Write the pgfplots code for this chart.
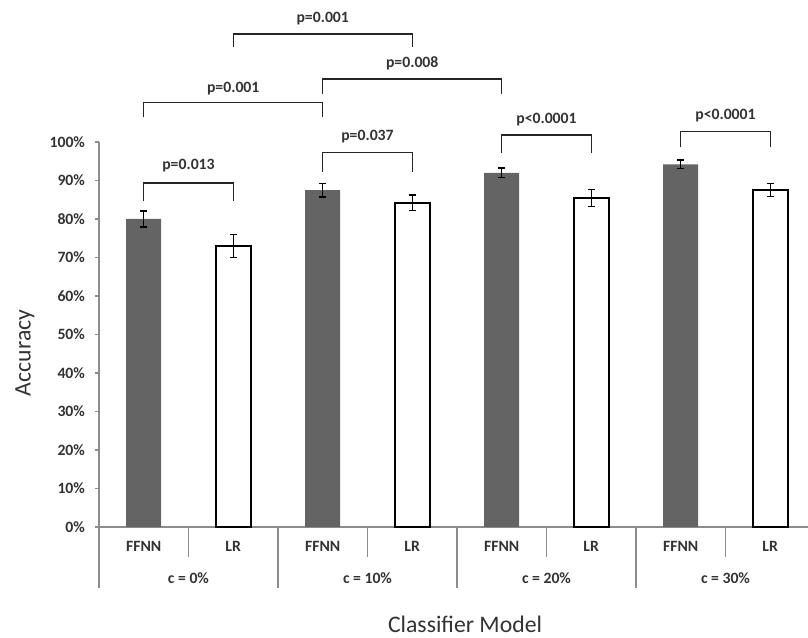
\documentclass[border=0pt]{standalone}
\usepackage{pgfplots}
\pgfplotsset{compat=1.18}
\usepackage{fontspec}
\setmainfont{Carlito}
\definecolor{axgray}{HTML}{8C8C8C}
\definecolor{barfill}{HTML}{646464}
\definecolor{txt}{HTML}{333333}
\tikzset{
  sep/.style={axgray, line width=1pt},
  lab/.style={text=txt, font=\fontsize{11.8}{14}\selectfont\bfseries},
  big/.style={text=txt, font=\fontsize{17.8}{20}\selectfont},
  brk/.style={black!85, line width=1.1pt},
}
\begin{document}
\begin{tikzpicture}
\begin{axis}[
  x=67.125pt, y=2.8875pt,
  xmin=-0.5, xmax=7.422, ymin=0, ymax=100,
  axis x line*=bottom, axis y line*=left,
  axis line style={axgray, line width=1pt},
  xtick=\empty,
  ytick={0,10,...,100},
  yticklabel={\pgfmathprintnumber{\tick}\%},
  /pgf/number format/assume math mode=true,
  tick style={axgray, line width=0.8pt},
  tick align=outside, major tick length=3pt,
  ticklabel style={font=\fontsize{11.8}{14}\selectfont\bfseries, text=txt},
  yticklabel style={xshift=-4pt},
  clip=false,
  ybar, bar width=26.25pt, bar shift=0pt,
]
\addplot[fill=barfill, draw=none,
  error bars/.cd, y dir=both, y explicit,
  error bar style={black, line width=1pt},
  error mark options={rotate=90, mark size=2.6pt, line width=1pt, black}]
  coordinates {(0,80.0) +- (0,2.1) (2,87.5) +- (0,1.8) (4,92.0) +- (0,1.2) (6,94.2) +- (0,1.1)};
\addplot[fill=white, draw=black, line width=1.4pt,
  error bars/.cd, y dir=both, y explicit,
  error bar style={black, line width=1pt},
  error mark options={rotate=90, mark size=2.6pt, line width=1pt, black}]
  coordinates {(1,73.0) +- (0,3.0) (3,84.2) +- (0,2.0) (5,85.5) +- (0,2.2) (7,87.5) +- (0,1.7)};

% category separators
\draw[sep] (axis cs:0.5,0) -- (axis cs:0.5,-7.8);
\draw[sep] (axis cs:2.5,0) -- (axis cs:2.5,-7.8);
\draw[sep] (axis cs:4.5,0) -- (axis cs:4.5,-7.8);
\draw[sep] (axis cs:6.5,0) -- (axis cs:6.5,-7.8);
\draw[sep] (axis cs:-0.5,0) -- (axis cs:-0.5,-15.8);
\draw[sep] (axis cs:1.5,0) -- (axis cs:1.5,-15.8);
\draw[sep] (axis cs:3.5,0) -- (axis cs:3.5,-15.8);
\draw[sep] (axis cs:5.5,0) -- (axis cs:5.5,-15.8);
% category labels
\node[lab] at (axis cs:0,-5.1) {FFNN};
\node[lab] at (axis cs:1,-5.1) {LR};
\node[lab] at (axis cs:2,-5.1) {FFNN};
\node[lab] at (axis cs:3,-5.1) {LR};
\node[lab] at (axis cs:4,-5.1) {FFNN};
\node[lab] at (axis cs:5,-5.1) {LR};
\node[lab] at (axis cs:6,-5.1) {FFNN};
\node[lab] at (axis cs:7,-5.1) {LR};
\node[lab] at (axis cs:0.5,-13.2) {c = 0\%};
\node[lab] at (axis cs:2.5,-13.2) {c = 10\%};
\node[lab] at (axis cs:4.5,-13.2) {c = 20\%};
\node[lab] at (axis cs:6.5,-13.2) {c = 30\%};
% axis titles
\node[big] at (axis cs:3.59,-25.3) {Classifier Model};
\node[big, rotate=90] at (axis cs:-1.327,45.2) {Accuracy};

% significance brackets
\draw[brk] (axis cs:0,84.8) -- (axis cs:0,89.4) -- (axis cs:1,89.4) -- (axis cs:1,84.8);
\node[lab] at (axis cs:0.5,93.8) {p=0.013};
\draw[brk] (axis cs:2,92.3) -- (axis cs:2,97.2) -- (axis cs:3,97.2) -- (axis cs:3,92.3);
\node[lab] at (axis cs:2.5,101.4) {p=0.037};
\draw[brk] (axis cs:0,106.4) -- (axis cs:0,110.3) -- (axis cs:2,110.3) -- (axis cs:2,106.4);
\node[lab] at (axis cs:1,113.9) {p=0.001};
\draw[brk] (axis cs:2,112.5) -- (axis cs:2,116.4) -- (axis cs:4,116.4) -- (axis cs:4,112.5);
\node[lab] at (axis cs:3,120.4) {p=0.008};
\draw[brk] (axis cs:1,124.8) -- (axis cs:1,128.0) -- (axis cs:3,128.0) -- (axis cs:3,124.8);
\node[lab] at (axis cs:2,132.1) {p=0.001};
\draw[brk] (axis cs:4,97.2) -- (axis cs:4,101.8) -- (axis cs:5,101.8) -- (axis cs:5,97.2);
\node[lab] at (axis cs:4.5,105.7) {p<0.0001};
\draw[brk] (axis cs:6,98.8) -- (axis cs:6,102.7) -- (axis cs:7,102.7) -- (axis cs:7,98.8);
\node[lab] at (axis cs:6.5,106.8) {p<0.0001};

\coordinate (bbll) at (axis cs:-1.606,-28.83);
\coordinate (bbur) at (axis cs:7.422,136.88);
\end{axis}
\pgfresetboundingbox
\path[use as bounding box] (bbll) rectangle (bbur);
\end{tikzpicture}
\end{document}
